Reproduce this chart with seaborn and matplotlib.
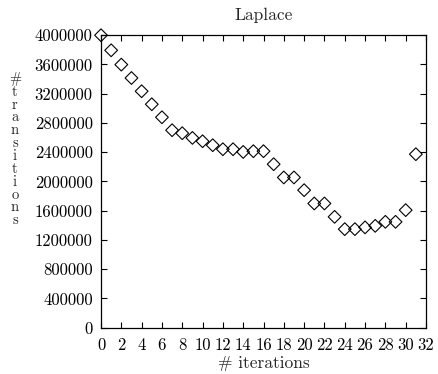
import numpy as np
import pandas as pd
import matplotlib
matplotlib.use('Agg')
import matplotlib.pyplot as plt
import seaborn as sns

# data
iterations = list(range(0, 32))
transitions = [
    4000000, 3794000, 3598000, 3415000, 3234000, 3056000, 2878000, 2701000,
    2660000, 2596000, 2550000, 2496000, 2441000, 2441000, 2404000, 2414000,
    2414000, 2236000, 2055000, 2055000, 1881000, 1699000, 1699000, 1516000,
    1348000, 1348000, 1372000, 1393000, 1448000, 1448000, 1608000, 2373000,
]
x_ticks = list(range(0, 33, 2))
y_ticks = [0, 400000, 800000, 1200000, 1600000, 2000000, 2400000,
           2800000, 3200000, 3600000, 4000000]
title = 'Laplace'
x_label = '# iterations'
y_label = '# transitions'

sns.set_style('ticks')
plt.rcParams['font.family'] = ['cmr10', 'DejaVu Serif']
plt.rcParams['axes.formatter.use_mathtext'] = True
plt.rcParams['axes.linewidth'] = 0.9
plt.rcParams['axes.edgecolor'] = 'black'

df = pd.DataFrame({'iteration': iterations, 'transitions': transitions})

fig = plt.figure(figsize=(4.38, 3.74), dpi=100)
ax = fig.add_axes([0.2306, 0.1238, 0.742, 0.782])

sns.scatterplot(data=df, x='iteration', y='transitions', ax=ax,
                marker='D', s=42, facecolor='none', edgecolor='black',
                linewidth=0.8, clip_on=False, zorder=3)

ax.set_xlim(0, 32)
ax.set_ylim(0, 4000000)
ax.set_xticks(x_ticks, [str(v) for v in x_ticks])
ax.set_yticks(y_ticks, [str(v) for v in y_ticks])
ax.tick_params(axis='both', direction='in', length=4, width=0.8,
               top=True, right=True, labelsize=12, colors='black')
ax.tick_params(axis='x', pad=7)
ax.tick_params(axis='y', pad=6)
for s in ax.spines.values():
    s.set_visible(True)
    s.set_color('black')

ax.set_xlabel(x_label, fontsize=12.5, labelpad=2)
ax.set_ylabel('')
ax.set_title(title, fontsize=12.5, pad=11)

fig.text(0.034, 0.60, '\n'.join(y_label.replace(' ', '')), fontsize=10.5,
         ha='center', va='center', linespacing=0.92)

fig.savefig('out.png', dpi=100)
